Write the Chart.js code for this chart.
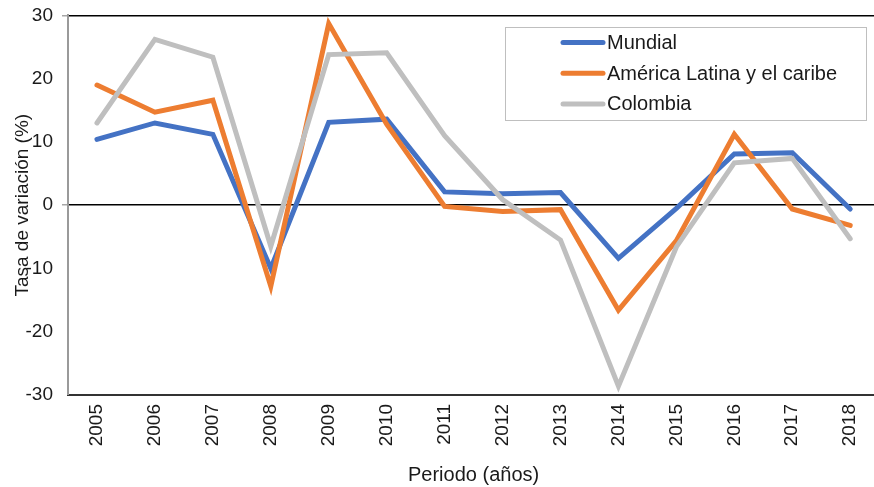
<!DOCTYPE html>
<html>
<head>
<meta charset="utf-8">
<script src="https://cdn.jsdelivr.net/npm/chart.js@4/dist/chart.umd.min.js"></script>
<style>
  html, body { margin: 0; padding: 0; background: #fff; overflow: hidden; }
  #wrap { position: relative; width: 882px; height: 492px; margin-top: -5px; }
</style>
</head>
<body>
<div id="wrap"><canvas id="myChart"></canvas></div>
<script>
// datos
const years = ['2005','2006','2007','2008','2009','2010','2011','2012','2013','2014','2015','2016','2017','2018'];
const mundial  = [10.4, 13.0, 11.2, -10.0, 13.1, 13.6,  2.1,  1.8,  2.0,  -8.4, -0.5, 8.1, 8.3, -0.6];
const america  = [19.0, 14.7, 16.6, -12.8, 28.7, 12.8, -0.2, -1.0, -0.7, -16.6, -5.6, 11.2, -0.6, -3.2];
const colombia = [13.0, 26.2, 23.4, -6.5, 23.8, 24.1, 11.0,  0.9, -5.5, -28.6, -6.6, 6.7, 7.4, -5.3];

const yTitle = 'Tasa de variación (%)';
const xTitle = 'Periodo (años)';

const FONT = 'Liberation Sans, Arial, Helvetica, sans-serif';
const TXT = '#1a1a1a';

// leyenda con recuadro, estilo Excel (el canvas va 5px mas arriba)
const boxLegend = {
    id: 'boxLegend',
    afterDatasetsDraw(chart) {
        const ctx = chart.ctx;
        const dy = 5;
        const x0 = 505.5, y0 = 27.5 + dy, w = 361, h = 93;
        ctx.save();
        ctx.fillStyle = '#fff';
        ctx.fillRect(x0, y0, w, h);
        ctx.strokeStyle = '#bfbfbf';
        ctx.lineWidth = 1;
        ctx.strokeRect(x0, y0, w, h);
        ctx.font = '20px ' + FONT;
        ctx.textBaseline = 'middle';
        chart.data.datasets.forEach(function (ds, i) {
            const y = 42.5 + dy + i * 30.7;
            ctx.strokeStyle = ds.borderColor;
            ctx.lineWidth = 5;
            ctx.lineCap = 'round';
            ctx.beginPath();
            ctx.moveTo(563, y);
            ctx.lineTo(603, y);
            ctx.stroke();
            ctx.fillStyle = TXT;
            ctx.fillText(ds.label, 607, y + 1);
        });
        ctx.restore();
    }
};

const ctx = document.getElementById('myChart').getContext('2d');
const myChart = new Chart(ctx, {
    type: 'line',
    data: {
        labels: years,
        datasets: [
            { label: 'Mundial', data: mundial, borderColor: '#4472c4', order: 3 },
            { label: 'América Latina y el caribe', data: america, borderColor: '#ed7d31', order: 2 },
            { label: 'Colombia', data: colombia, borderColor: '#bfbfbf', order: 1 }
        ]
    },
    options: {
        responsive: true,
        maintainAspectRatio: false,
        animation: false,
        layout: { padding: { top: 20, right: 0, left: 0, bottom: 0 } },
        datasets: {
            line: {
                borderWidth: 5,
                pointRadius: 0,
                tension: 0,
                fill: false,
                borderJoinStyle: 'miter',
                borderCapStyle: 'round'
            }
        },
        plugins: {
            legend: { display: false },
            tooltip: { enabled: false }
        },
        scales: {
            x: {
                offset: true,
                grid: { display: false, drawTicks: false },
                border: { color: '#333', width: 2 },
                ticks: {
                    minRotation: 90, maxRotation: 90, autoSkip: false,
                    padding: 9,
                    color: TXT,
                    font: { family: FONT, size: 19 }
                },
                title: {
                    display: true, text: xTitle, color: TXT,
                    font: { family: FONT, size: 20 },
                    padding: { top: 4, bottom: 0 }
                },
                afterFit(scale) { scale.height = 92; }
            },
            y: {
                min: -30, max: 30,
                border: { color: '#9a9a9a', width: 2 },
                grid: {
                    drawOnChartArea: true,
                    tickLength: 6,
                    tickColor: '#a6a6a6',
                    lineWidth: function (c) { return (c.tick && (c.tick.value === 0 || c.tick.value === 30)) ? 1.5 : 0; },
                    color: function (c) { return (c.tick && (c.tick.value === 0 || c.tick.value === 30)) ? '#000' : 'rgba(0,0,0,0)'; }
                },
                ticks: {
                    stepSize: 2,
                    autoSkip: false,
                    padding: 9,
                    color: TXT,
                    font: { family: FONT, size: 19 },
                    callback: function (v) { return v % 10 === 0 ? v : ''; }
                },
                title: {
                    display: true, text: yTitle, color: TXT,
                    font: { family: FONT, size: 19 },
                    padding: { top: 11, bottom: 0 }
                },
                afterFit(scale) { scale.width = 68; }
            }
        }
    },
    plugins: [boxLegend]
});
</script>
</body>
</html>
